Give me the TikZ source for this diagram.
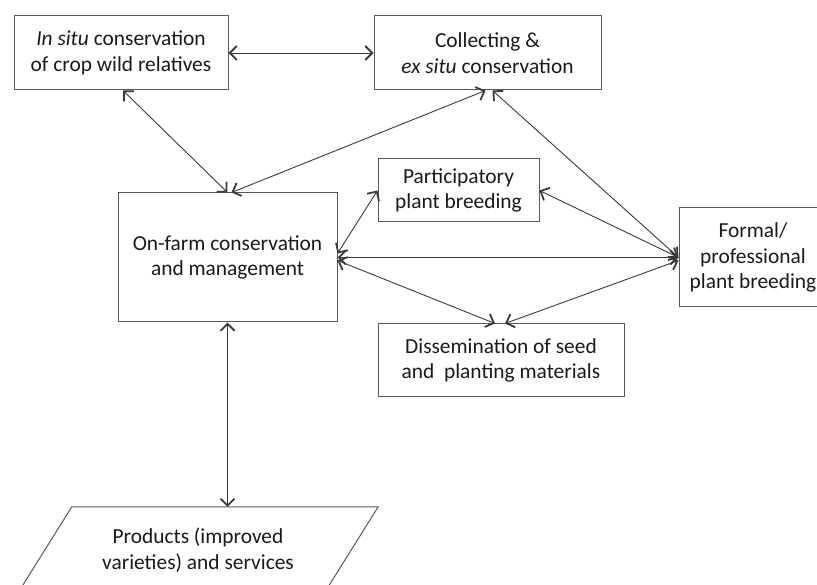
\documentclass[tikz,border=0pt]{standalone}
\usepackage{fontspec}
\setmainfont{Carlito}
\usepackage{tikz}
\usetikzlibrary{positioning,arrows.meta}
\definecolor{edge}{HTML}{5A5A5A}
\definecolor{link}{HTML}{3A3A3A}
\definecolor{ink}{HTML}{1A1A1A}

\begin{document}
\begin{tikzpicture}[x=1pt,y=-1pt,
  font=\fontsize{21.4}{25.5}\selectfont,
  box/.style={draw=edge,line width=1pt,align=center,text=ink,inner sep=0pt},
  lnk/.style={{Straight Barb[length=7pt,width=14pt,line width=1.8pt]}-{Straight Barb[length=7pt,width=14pt,line width=1.8pt]},
    draw=link,line width=0.9pt},
]
\useasboundingbox (0,0) rectangle (817,585);

\node[box,minimum width=214,minimum height=74] at (121,53) (insitu)
  {\textit{In situ} conservation\\of crop wild relatives};
\node[box,minimum width=227,minimum height=74] at (487.5,53) (collect)
  {Collecting \&\\\textit{ex situ} conservation};
\node[box,minimum width=219,minimum height=129] at (227.5,257.5) (onfarm)
  {On-farm conservation\\and management};
\node[box,minimum width=161,minimum height=63] at (458.5,190.5) (partic)
  {Participatory\\plant breeding};
\node[box,minimum width=148,minimum height=99] at (753,257.5) (formal)
  {Formal/\\professional\\plant breeding};
\node[box,minimum width=246,minimum height=73] at (501,360.5) (dissem)
  {Dissemination of seed\\and\ \ planting materials};
\node[align=center,text=ink,inner sep=0pt,minimum width=306,minimum height=86] at (198,550) (prod)
  {Products (improved\\varieties) and services};
\draw[draw=edge,line width=1pt] ([xshift=27pt]prod.north west) -- ([xshift=27pt]prod.north east)
  -- ([xshift=-27pt]prod.south east) -- ([xshift=-27pt]prod.south west) -- cycle;

\draw[lnk] (insitu.east) -- (collect.west);
\draw[lnk] ([xshift=2pt]insitu.south) -- (onfarm.north);
\draw[lnk] ([xshift=-2pt]collect.south) -- ([xshift=4pt]onfarm.north);
\draw[lnk] ([xshift=5pt]collect.south) -- (formal.west);
\draw[lnk] (partic.west) -- ([yshift=4pt]onfarm.east);
\draw[lnk] (partic.east) -- (formal.west);
\draw[lnk] (onfarm.east) -- (formal.west);
\draw[lnk] ([yshift=-3pt]onfarm.east) -- ([xshift=-6pt]dissem.north);
\draw[lnk] ([xshift=4pt]dissem.north) -- ([yshift=-3pt]formal.west);
\draw[lnk] (onfarm.south) -- (onfarm.south |- prod.north);
\end{tikzpicture}
\end{document}
